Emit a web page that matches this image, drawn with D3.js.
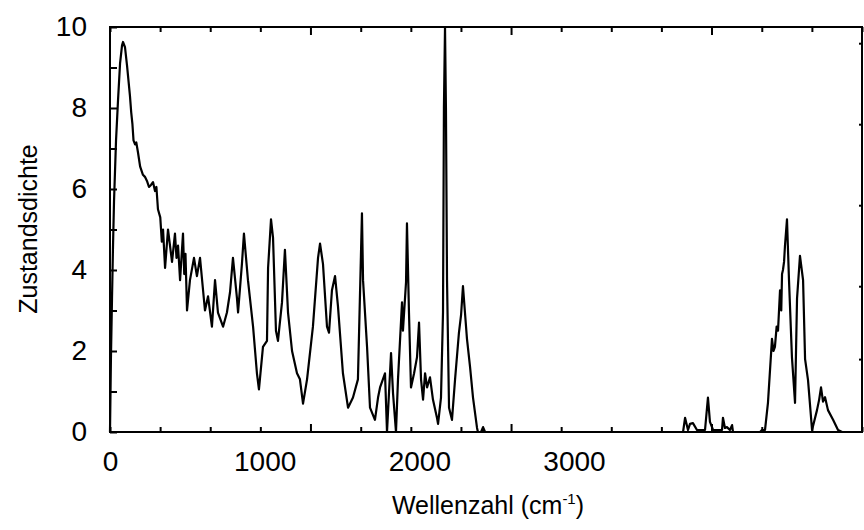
<!DOCTYPE html>
<html lang="en">
<head>
  <meta charset="UTF-8" />
  <title>Zustandsdichte</title>
  <style>
    body { margin: 0; background: #fff; }
    .frame { fill: none; stroke: #000; stroke-width: 2px; }
    .data-line { fill: none; stroke: #000; stroke-width: 2.2px; stroke-linejoin: round; }
    .axis path { display: none; }
    .axis line { stroke: #000; stroke-width: 2px; }
    .lbl text { font-family: "Liberation Sans", Arial, sans-serif; font-size: 28px; fill: #000; }
    .title { font-family: "Liberation Sans", Arial, sans-serif; font-size: 25px; fill: #000; }
  </style>
</head>
<body>
  <script src="https://cdn.jsdelivr.net/npm/d3@7"></script>
  <script>
    var w = 864;
    var h = 530;
    var margin = { top: 27, right: 2, bottom: 98, left: 110 };

    // wavenumber axis as printed (labels do not line up with the tick marks)
    var xMax = 4862;
    var xLabels = [0, 1000, 2000, 3000];
    var xTickMarks = [0, 324, 648, 972, 1296, 1621, 1945, 2269, 2593, 2917, 3241, 3565, 3889, 4214, 4538, 4862];
    var xMajor = [1296, 2593, 3889];
    var yLabels = [0, 2, 4, 6, 8, 10];
    var yTickMarks = [0, 1, 2, 3, 4, 5, 6, 7, 8, 9, 10];
    var yRightMarks = [1.8, 3.6, 5.6, 7.6, 9.6];

    // density of states
    var wave = [0, 6, 13, 19, 26, 39, 52, 65, 78, 84, 97, 110, 129, 137, 145, 152, 162, 170, 181, 195, 213, 226, 239, 252, 265,
      278, 291, 300, 310, 325, 335, 343, 356, 375, 401, 420, 430, 440, 453, 472, 480, 488, 498, 517, 543, 562, 582, 614, 634, 659, 679,
      698, 731, 756, 776, 795, 821, 828, 853, 866, 892, 925, 950, 963, 989, 1015, 1022, 1041, 1054, 1073, 1086,
      1112, 1131, 1151, 1177, 1209, 1228, 1248, 1274, 1312, 1345, 1358, 1377, 1403, 1416, 1435, 1455, 1474, 1506, 1539, 1571,
      1603, 1629, 1636, 1662, 1681, 1713, 1733, 1746, 1778, 1791, 1817, 1830, 1849, 1862, 1888, 1894, 1914, 1920, 1933, 1946,
      1966, 1985, 1998, 2011, 2024, 2037, 2050, 2069, 2088, 2114, 2121, 2140, 2153, 2159, 2166, 2172, 2179, 2192, 2211, 2231,
      2256, 2270, 2282, 2295, 2308, 2328, 2347, 2373, 2379, 2399, 2412, 2425, 3705, 3718, 3737, 3750, 3769, 3795, 3834, 3847, 3866,
      3879, 3899, 3944, 3957, 3963, 3976, 3989, 4008, 4022, 4028, 4203, 4215, 4235, 4254, 4280, 4290, 4299, 4310, 4319, 4332, 4340, 4345, 4351, 4358, 4364,
      4377, 4390, 4409, 4429, 4442, 4461, 4481, 4494, 4513, 4539, 4571, 4585, 4597, 4610, 4623, 4642, 4675, 4707, 4733, 4862];
    var dos = [0, 1.8, 3.3, 4.5, 5.7, 7.2, 8.2, 9.1, 9.55, 9.63, 9.5, 9.05, 8.3, 7.9, 7.6, 7.2, 7.1, 7.15, 6.9, 6.55, 6.35, 6.3, 6.2, 6.05, 6.1,
      6.17, 5.95, 6.05, 5.5, 5.3, 4.7, 5.0, 4.05, 5.0, 4.2, 4.9, 4.3, 4.6, 3.75, 4.9, 3.9, 4.4, 3.0, 3.75, 4.3, 3.85, 4.3, 3.0, 3.35, 2.6, 3.75,
      2.95, 2.6, 2.95, 3.45, 4.3, 3.3, 2.95, 4.15, 4.9, 3.75, 2.6, 1.45, 1.05, 2.1, 2.25, 4.05, 5.25, 4.8, 2.5, 2.25,
      3.2, 4.5, 2.95, 2.0, 1.45, 1.3, 0.7, 1.3, 2.6, 4.3, 4.65, 4.15, 2.6, 2.45, 3.5, 3.85, 3.1, 1.45, 0.6, 0.85,
      1.3, 5.4, 3.75, 2.1, 0.6, 0.3, 0.85, 1.1, 1.45, 0, 1.95, 0.95, 0, 1.3, 3.2, 2.5, 3.7, 5.15, 2.95, 1.1,
      1.45, 1.85, 2.7, 1.3, 0.8, 1.45, 1.1, 1.35, 0.8, 0.35, 0.2, 0.85, 2.95, 8.0, 10.0, 8.0, 3.75, 0.6, 0.3, 1.3,
      2.45, 2.9, 3.6, 2.95, 2.3, 1.6, 0.85, 0.1, 0, 0, 0.12, 0, 0, 0.35, 0.05, 0.2, 0.22, 0.05, 0.05, 0.05, 0.85,
      0.25, 0.05, 0.05, 0.05, 0.35, 0.1, 0.12, 0.05, 0.17, 0, 0, 0.05, 0.05, 0.72, 2.3, 2.0, 2.1, 2.6, 2.5, 3.5, 3.0, 3.9, 4.0, 4.2, 4.6,
      5.25, 3.75, 1.85, 0.72, 3.3, 4.35, 3.75, 1.8, 1.28, 0.05, 0.54, 0.8, 1.1, 0.75, 0.86, 0.54, 0.3, 0.05, 0, 0];

    var data = wave.map(function(d, i) { return { x: d, y: dos[i] }; });

    var iw = w - margin.left - margin.right;
    var ih = h - margin.top - margin.bottom;

    var svg = d3.select("body").append("svg")
      .attr("width", w)
      .attr("height", h);

    var g = svg.append("g")
      .attr("transform", "translate(" + margin.left + "," + margin.top + ")");

    var xScale = d3.scaleLinear().domain([0, xMax]).range([0, iw]);
    var yScale = d3.scaleLinear().domain([0, 10]).range([ih, 0]);

    // tick marks, all pointing inwards
    var isMajor = function(d) { return xMajor.indexOf(d) >= 0; };

    g.append("g").attr("class", "axis")
      .attr("transform", "translate(0," + ih + ")")
      .call(d3.axisTop(xScale).tickValues(xTickMarks).tickSize(5).tickFormat(""))
      .selectAll(".tick line").attr("y2", function(d) { return isMajor(d) ? -8 : -5; });

    g.append("g").attr("class", "axis")
      .call(d3.axisBottom(xScale).tickValues(xTickMarks).tickSize(5).tickFormat(""))
      .selectAll(".tick line").attr("y2", function(d) { return isMajor(d) ? 8 : 5; });

    g.append("g").attr("class", "axis")
      .call(d3.axisRight(yScale).tickValues(yTickMarks).tickSize(7).tickFormat(""));

    g.append("g").attr("class", "axis")
      .attr("transform", "translate(" + iw + ",0)")
      .call(d3.axisLeft(yScale).tickValues(yRightMarks).tickSize(3).tickFormat(""));

    // labels
    g.append("g").attr("class", "axis lbl")
      .attr("transform", "translate(0," + ih + ")")
      .call(d3.axisBottom(xScale).tickValues(xLabels).tickSize(0).tickPadding(19).tickFormat(d3.format("d")));

    g.append("g").attr("class", "axis lbl")
      .call(d3.axisLeft(yScale).tickValues(yLabels).tickSize(0).tickPadding(23).tickFormat(d3.format("d")));

    var line = d3.line()
      .x(function(d) { return xScale(d.x); })
      .y(function(d) { return yScale(d.y); });

    g.append("path")
      .datum(data)
      .attr("class", "data-line")
      .attr("d", line);

    g.append("rect")
      .attr("class", "frame")
      .attr("x", 0)
      .attr("y", 0)
      .attr("width", iw)
      .attr("height", ih);

    // axis titles
    var xt = svg.append("text")
      .attr("class", "title")
      .attr("x", 488)
      .attr("y", 514)
      .attr("text-anchor", "middle");
    xt.append("tspan").text("Wellenzahl (cm");
    xt.append("tspan").attr("dy", -10).attr("font-size", "15px").text("-1");
    xt.append("tspan").attr("dy", 10).text(")");

    svg.append("text")
      .attr("class", "title")
      .attr("transform", "translate(37,229) rotate(-90)")
      .attr("font-size", "27px")
      .text("Zustandsdichte")
      .attr("text-anchor", "middle");
  </script>
</body>
</html>
